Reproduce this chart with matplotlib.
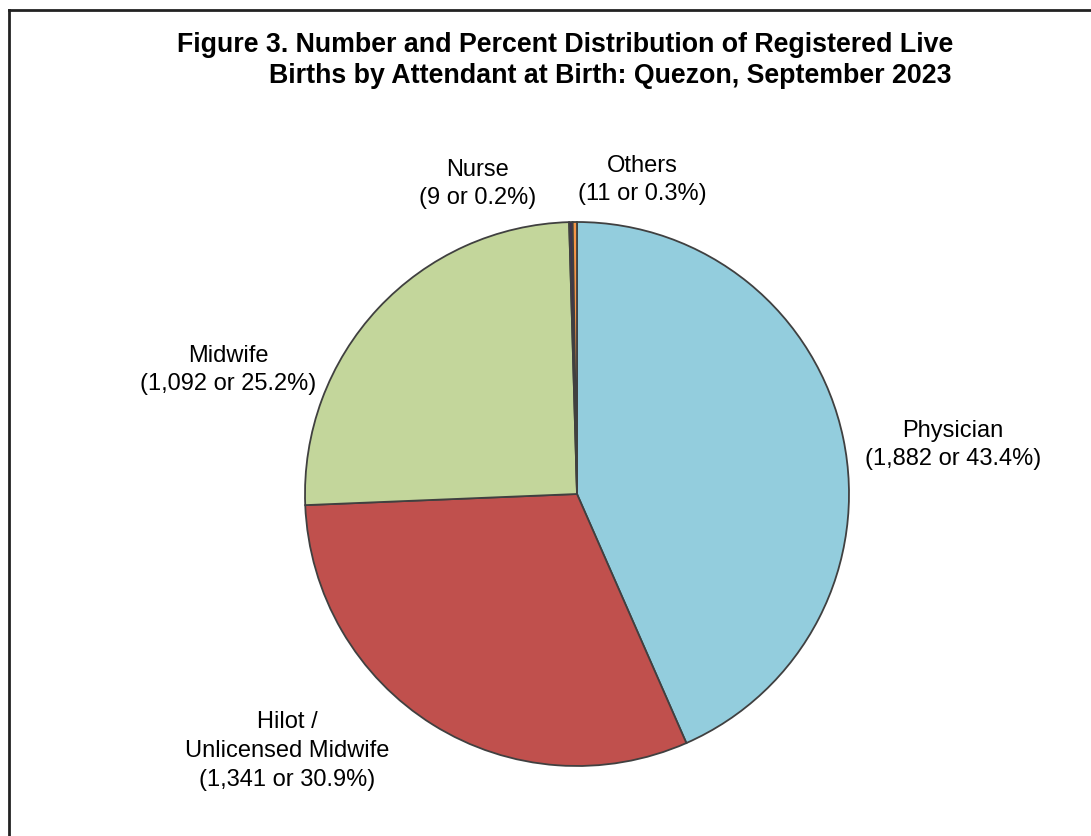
import matplotlib.pyplot as plt

# Data
categories = ["Physician", "Hilot /\nUnlicensed Midwife", "Midwife", "Nurse", "Others"]
counts = [1882, 1341, 1092, 9, 11]
percents = [43.4, 30.9, 25.2, 0.2, 0.3]
colors = ["#93CDDD", "#C0504D", "#C3D69B", "#403152", "#F79646"]

W, H = 1091, 836
cx, cy, r = 577, 494, 272

plt.rcParams["font.family"] = ["Liberation Sans", "DejaVu Sans"]
fig = plt.figure(figsize=(W / 100, H / 100), dpi=100)

# frame lines (left and top only visible)
fig.add_artist(plt.Line2D([9 / W, 9 / W], [0, 1 - 10 / H], transform=fig.transFigure, color="#222222", lw=2))
fig.add_artist(plt.Line2D([9 / W, 1], [1 - 10 / H, 1 - 10 / H], transform=fig.transFigure, color="#222222", lw=2))

ax = fig.add_axes([(cx - r) / W, (H - cy - r) / H, 2 * r / W, 2 * r / H])
ax.pie(counts, colors=colors, startangle=90, counterclock=False, radius=1,
       wedgeprops={"edgecolor": "#404040", "linewidth": 1.3})
ax.set_xlim(-1, 1)
ax.set_ylim(-1, 1)
ax.set_aspect("equal")
ax.axis("off")

# label centers in pixels
label_px = [(953, 445), (287, 751), (228, 370), (478, 184), (642, 180)]
for cat, n, p, (px, py) in zip(categories, counts, percents, label_px):
    txt = f"{cat}\n({n:,} or {p}%)"
    ax.text((px - cx) / r, (cy - py) / r, txt, ha="center", va="center",
            fontsize=17, linespacing=1.4, clip_on=False)

fig.text(565 / W, 1 - 45 / H, "Figure 3. Number and Percent Distribution of Registered Live",
         ha="center", va="center", fontsize=19.3, fontweight="bold")
fig.text(610 / W, 1 - 76 / H, "Births by Attendant at Birth: Quezon, September 2023",
         ha="center", va="center", fontsize=19.3, fontweight="bold")

fig.savefig("out.png", dpi=100)
